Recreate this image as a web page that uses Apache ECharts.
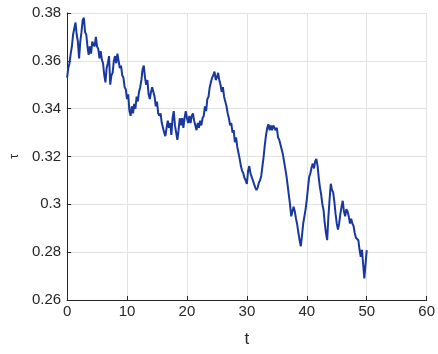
<!DOCTYPE html>
<html>
<head>
<meta charset="utf-8">
<script src="https://cdn.jsdelivr.net/npm/echarts@6/dist/echarts.min.js"></script>
<style>
  html, body { margin: 0; padding: 0; background: #ffffff; }
  #chart { width: 438px; height: 354px; }
</style>
</head>
<body>
<div id="chart"></div>
<script>
// sampling step of the time grid (t = 0 ... 50)
const tStep = 0.2;

// tau(t), one value per time step
const tau = [
  0.353, 0.357, 0.359, 0.363, 0.366, 0.371, 0.371, 0.376, 0.371, 0.368,
  0.361, 0.368, 0.372, 0.377, 0.378, 0.372, 0.371, 0.366, 0.3625, 0.366,
  0.363, 0.368, 0.367, 0.366, 0.370, 0.366, 0.365, 0.361, 0.364, 0.3605,
  0.359, 0.354, 0.351, 0.357, 0.359, 0.362, 0.350, 0.354, 0.355, 0.360,
  0.362, 0.359, 0.363, 0.360, 0.357, 0.358, 0.354, 0.353, 0.349, 0.348,
  0.344, 0.346, 0.339, 0.337, 0.341, 0.338, 0.342, 0.340, 0.345, 0.343,
  0.347, 0.349, 0.352, 0.3565, 0.358, 0.353, 0.350, 0.352, 0.346, 0.344,
  0.347, 0.349, 0.3470, 0.345, 0.341, 0.343, 0.338, 0.337, 0.338, 0.334,
  0.334, 0.330, 0.3285, 0.332, 0.335, 0.332, 0.334, 0.329, 0.336, 0.339,
  0.333, 0.330, 0.327, 0.331, 0.336, 0.333, 0.336, 0.332, 0.336, 0.339,
  0.336, 0.334, 0.337, 0.334, 0.337, 0.338, 0.335, 0.333, 0.331, 0.334,
  0.332, 0.335, 0.333, 0.336, 0.337, 0.341, 0.339, 0.344, 0.345, 0.349,
  0.351, 0.353, 0.354, 0.3555, 0.352, 0.353, 0.355, 0.352, 0.350, 0.347,
  0.349, 0.345, 0.343, 0.341, 0.338, 0.336, 0.333, 0.334, 0.330, 0.331,
  0.326, 0.328, 0.324, 0.324, 0.319, 0.316, 0.314, 0.313, 0.311, 0.310,
  0.3085, 0.314, 0.316, 0.313, 0.313, 0.310, 0.310, 0.307, 0.306, 0.307,
  0.309, 0.310, 0.312, 0.316, 0.320, 0.325, 0.329, 0.332, 0.3335, 0.331,
  0.333, 0.331, 0.333, 0.3320, 0.331, 0.332, 0.328, 0.327, 0.325, 0.323,
  0.321, 0.318, 0.315, 0.312, 0.308, 0.304, 0.300, 0.295, 0.2945, 0.299,
  0.297, 0.294, 0.2915, 0.288, 0.285, 0.2825, 0.287, 0.292, 0.295, 0.298,
  0.302, 0.307, 0.3115, 0.313, 0.3155, 0.317, 0.315, 0.318, 0.319, 0.316,
  0.311, 0.307, 0.304, 0.300, 0.2975, 0.292, 0.288, 0.285, 0.2947, 0.302,
  0.3086, 0.306, 0.305, 0.301, 0.296, 0.292, 0.2895, 0.292, 0.296, 0.299,
  0.3015, 0.297, 0.295, 0.298, 0.297, 0.295, 0.292, 0.294, 0.292, 0.291,
  0.288, 0.286, 0.2855, 0.285, 0.281, 0.278, 0.281, 0.2808, 0.269, 0.275,
  0.2808
];

// axis ranges and tick spacing
const xTicks = [0, 10, 20, 30, 40, 50, 60];
const yTicks = [0.26, 0.28, 0.30, 0.32, 0.34, 0.36, 0.38];

const points = tau.map((v, i) => [+(i * tStep).toFixed(2), v]);

const axisColor = '#262626';
const gridColor = '#e3e3e3';
const font = 'Liberation Sans, Arial, sans-serif';

const chart = echarts.init(document.getElementById('chart'), null, { renderer: 'canvas' });
chart.setOption({
  animation: false,
  backgroundColor: '#ffffff',
  grid: { left: 67, right: 11, top: 13, bottom: 54, containLabel: false },
  xAxis: {
    type: 'value',
    min: xTicks[0],
    max: xTicks[xTicks.length - 1],
    interval: 10,
    name: 't',
    nameLocation: 'middle',
    nameGap: 31,
    nameTextStyle: { color: axisColor, fontSize: 17, fontFamily: font },
    axisLine: { show: true, lineStyle: { color: axisColor, width: 1 } },
    axisTick: { show: true, inside: true, length: 4, lineStyle: { color: axisColor } },
    axisLabel: { color: axisColor, fontSize: 15, fontFamily: font, margin: 4 },
    splitLine: { show: true, lineStyle: { color: gridColor, width: 1 } }
  },
  yAxis: {
    type: 'value',
    min: yTicks[0],
    max: yTicks[yTicks.length - 1],
    interval: 0.02,
    name: 'τ',
    nameLocation: 'middle',
    nameRotate: 90,
    nameGap: 44,
    nameTextStyle: { color: axisColor, fontSize: 13, fontFamily: font },
    axisLine: { show: true, lineStyle: { color: axisColor, width: 1 } },
    axisTick: { show: true, inside: true, length: 4, lineStyle: { color: axisColor } },
    axisLabel: {
      color: axisColor, fontSize: 15, fontFamily: font, margin: 6,
      formatter: v => String(+v.toFixed(2))
    },
    splitLine: { show: true, lineStyle: { color: gridColor, width: 1 } }
  },
  series: [{
    type: 'line',
    data: points,
    showSymbol: false,
    symbol: 'none',
    lineStyle: { color: '#1838a0', width: 2 },
    z: 3
  }]
});
</script>
</body>
</html>
